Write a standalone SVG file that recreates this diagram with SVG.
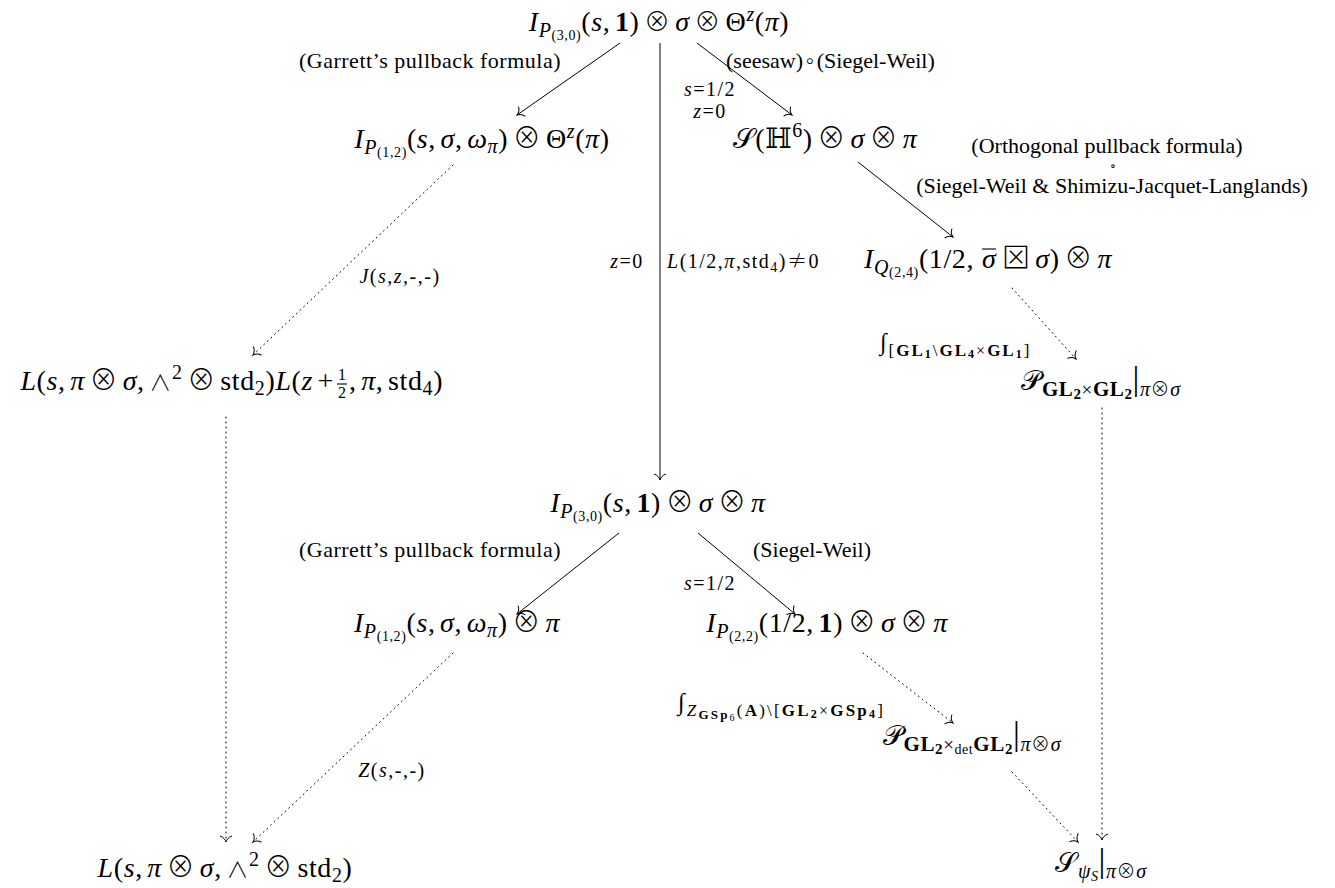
<svg xmlns="http://www.w3.org/2000/svg" width="1335" height="888" viewBox="0 0 1335 888">
<style>
text{font-family:"Liberation Serif","DejaVu Serif",serif;fill:#000}
.n{font-size:28px;letter-spacing:0.6px;word-spacing:-3px}
.l{font-size:22px}
.s{font-size:20px;letter-spacing:1.5px}
.i{font-style:italic}
.b{font-weight:bold}
.o{font-family:"Noto Sans CJK JP","DejaVu Sans",sans-serif;font-weight:300}
.c line{stroke:#000;stroke-width:1;fill:none}
.sol{marker-end:url(#ah)}
.dot{stroke-dasharray:1 4;stroke-linecap:round;marker-end:url(#ah)}
.bar{stroke:#000;stroke-width:1.1}
</style>
<defs>
<marker id="ah" markerUnits="userSpaceOnUse" viewBox="-8 -8 10 16" refX="0" refY="0" markerWidth="10" markerHeight="16" orient="auto">
<path d="M-6,-6 C-5,-2.5 -2,-0.6 0,0 C-2,0.6 -5,2.5 -6,6" fill="none" stroke="#000" stroke-width="1"/>
</marker>
</defs>
<rect width="1335" height="888" fill="#fff"/>

<g id="n1"><text class="n" x="659" y="31" text-anchor="middle"><tspan class="i">I</tspan><tspan class="i" font-size="20" dy="6">P</tspan><tspan font-size="14" dy="3">(3,0)</tspan><tspan dy="-9">(</tspan><tspan class="i">s</tspan>, <tspan class="b">1</tspan>) <tspan class="o" font-size="26">⊗</tspan> <tspan class="i">σ</tspan> <tspan class="o" font-size="26">⊗</tspan> Θ<tspan class="i" font-size="20" dy="-10">z</tspan><tspan dy="10">(</tspan><tspan class="i">π</tspan>)</text></g>

<g id="n2"><text class="n" x="482" y="148" text-anchor="middle"><tspan class="i">I</tspan><tspan class="i" font-size="20" dy="6">P</tspan><tspan font-size="14" dy="3">(1,2)</tspan><tspan dy="-9">(</tspan><tspan class="i">s</tspan>, <tspan class="i">σ</tspan>, <tspan class="i">ω</tspan><tspan class="i" font-size="20" dy="5">π</tspan><tspan dy="-5">) </tspan><tspan class="o">⊗</tspan> Θ<tspan class="i" font-size="20" dy="-10">z</tspan><tspan dy="10">(</tspan><tspan class="i">π</tspan>)</text></g>

<g id="n3"><text class="n" x="825" y="148" text-anchor="middle">𝒮(ℍ<tspan font-size="20" dy="-11">6</tspan><tspan dy="11">) </tspan><tspan class="o">⊗</tspan> <tspan class="i">σ</tspan> <tspan class="o">⊗</tspan> <tspan class="i">π</tspan></text></g>

<g id="n4"><text class="n" x="974" y="268" text-anchor="end" letter-spacing="1.6"><tspan class="i">I</tspan><tspan class="i" font-size="20" dy="6">Q</tspan><tspan font-size="14" dy="3">(2,4)</tspan><tspan dy="-9">(1/2,</tspan></text><text class="n i" x="982" y="268">σ</text><line class="bar" x1="982" y1="249" x2="996" y2="249"/><text class="n" x="1002" y="268"><tspan class="o">⊠</tspan> <tspan class="i">σ</tspan>) <tspan class="o">⊗</tspan> <tspan class="i">π</tspan></text></g>

<g id="n5"><text class="n" x="334" y="390" text-anchor="end"><tspan class="i">L</tspan>(<tspan class="i">s</tspan>, <tspan class="i">π</tspan> <tspan class="o">⊗</tspan> <tspan class="i">σ</tspan>, <tspan class="o" font-size="22">∧</tspan><tspan font-size="20" dy="-11">2</tspan><tspan dy="11"> </tspan><tspan class="o">⊗</tspan> std<tspan font-size="20" dy="5">2</tspan><tspan dy="-5">)</tspan><tspan class="i">L</tspan>(<tspan class="i">z</tspan> +</text><text font-size="16" x="342" y="380" text-anchor="middle">1</text><line class="bar" x1="337" y1="384" x2="347" y2="384"/><text font-size="16" x="342" y="398" text-anchor="middle">2</text><text class="n" x="349" y="390">, <tspan class="i">π</tspan>, std<tspan font-size="20" dy="5">4</tspan><tspan dy="-5">)</tspan></text></g>

<g id="n6"><text class="n" x="1101" y="390" text-anchor="middle">𝒫<tspan class="b" font-size="21" dy="6">GL</tspan><tspan class="b" font-size="15" dy="3">2</tspan><tspan font-size="19" dy="-3">×</tspan><tspan class="b" font-size="21">GL</tspan><tspan class="b" font-size="15" dy="3">2</tspan><tspan font-size="34" dy="-9">|</tspan><tspan class="i" font-size="20" dy="6">π</tspan><tspan class="o" font-size="19">⊗</tspan><tspan class="i" font-size="20">σ</tspan></text></g>

<g id="n7"><text class="n" x="658" y="512" text-anchor="middle"><tspan class="i">I</tspan><tspan class="i" font-size="20" dy="6">P</tspan><tspan font-size="14" dy="3">(3,0)</tspan><tspan dy="-9">(</tspan><tspan class="i">s</tspan>, <tspan class="b">1</tspan>) <tspan class="o">⊗</tspan> <tspan class="i">σ</tspan> <tspan class="o">⊗</tspan> <tspan class="i">π</tspan></text></g>

<g id="n8"><text class="n" x="457" y="632" text-anchor="middle"><tspan class="i">I</tspan><tspan class="i" font-size="20" dy="6">P</tspan><tspan font-size="14" dy="3">(1,2)</tspan><tspan dy="-9">(</tspan><tspan class="i">s</tspan>, <tspan class="i">σ</tspan>, <tspan class="i">ω</tspan><tspan class="i" font-size="20" dy="5">π</tspan><tspan dy="-5">) </tspan><tspan class="o">⊗</tspan> <tspan class="i">π</tspan></text></g>

<g id="n9"><text class="n" x="827" y="632" text-anchor="middle"><tspan class="i">I</tspan><tspan class="i" font-size="20" dy="6">P</tspan><tspan font-size="14" dy="3">(2,2)</tspan><tspan dy="-9">(1/2, </tspan><tspan class="b">1</tspan>) <tspan class="o">⊗</tspan> <tspan class="i">σ</tspan> <tspan class="o">⊗</tspan> <tspan class="i">π</tspan></text></g>

<g id="n10"><text class="n" x="972" y="745" text-anchor="middle">𝒫<tspan class="b" font-size="21" dy="6">GL</tspan><tspan class="b" font-size="15" dy="3">2</tspan><tspan font-size="19" dy="-3">×</tspan><tspan font-size="14" dy="3">det</tspan><tspan class="b" font-size="21" dy="-3">GL</tspan><tspan class="b" font-size="15" dy="3">2</tspan><tspan font-size="34" dy="-9">|</tspan><tspan class="i" font-size="20" dy="6">π</tspan><tspan class="o" font-size="19">⊗</tspan><tspan class="i" font-size="20">σ</tspan></text></g>

<g id="n11"><text class="n" x="225" y="877" text-anchor="middle"><tspan class="i">L</tspan>(<tspan class="i">s</tspan>, <tspan class="i">π</tspan> <tspan class="o">⊗</tspan> <tspan class="i">σ</tspan>, <tspan class="o" font-size="22">∧</tspan><tspan font-size="20" dy="-11">2</tspan><tspan dy="11"> </tspan><tspan class="o">⊗</tspan> std<tspan font-size="20" dy="5">2</tspan><tspan dy="-5">)</tspan></text></g>

<g id="n12"><text class="n" x="1101" y="872" text-anchor="middle">𝒮<tspan class="i" font-size="20" dy="6">ψ</tspan><tspan class="i" font-size="14" dy="3">S</tspan><tspan font-size="34" dy="-9">|</tspan><tspan class="i" font-size="20" dy="6">π</tspan><tspan class="o" font-size="19">⊗</tspan><tspan class="i" font-size="20">σ</tspan></text></g>

<g id="labels">
<text class="l" x="430" y="68" text-anchor="middle" letter-spacing="0.5">(Garrett’s pullback formula)</text>
<text class="l" x="726" y="68">(seesaw)<tspan class="o">∘</tspan>(Siegel-Weil)</text>
<text class="s" x="710" y="96" text-anchor="middle"><tspan class="i">s</tspan>=1/2</text>
<text class="s" x="710" y="118" text-anchor="middle"><tspan class="i">z</tspan>=0</text>
<text class="l" x="1107" y="153" text-anchor="middle">(Orthogonal pullback formula)</text>
<text font-family="DejaVu Sans" font-size="12" x="1113" y="170" text-anchor="middle">∘</text>
<text class="l" x="1112" y="193" text-anchor="middle">(Siegel-Weil &amp; Shimizu-Jacquet-Langlands)</text>
<text class="s" x="627" y="268" text-anchor="middle"><tspan class="i">z</tspan>=0</text>
<text class="s" x="667" y="268"><tspan class="i">L</tspan>(1/2,<tspan class="i">π</tspan>,std<tspan font-size="14" dy="4">4</tspan><tspan dy="-4">)</tspan><tspan class="o">≠</tspan>0</text>
<text class="s" x="400" y="283" text-anchor="middle"><tspan class="i">J</tspan>(<tspan class="i">s</tspan>,<tspan class="i">z</tspan>,-,-)</text>
<text x="880" y="350" letter-spacing="2"><tspan font-size="24">∫</tspan><tspan font-size="17" dy="6">[</tspan><tspan class="b" font-size="17">GL</tspan><tspan class="b" font-size="12" dy="2">1</tspan><tspan font-size="17" dy="-2">\</tspan><tspan class="b" font-size="17">GL</tspan><tspan class="b" font-size="12" dy="2">4</tspan><tspan font-size="16" dy="-2">×</tspan><tspan class="b" font-size="17">GL</tspan><tspan class="b" font-size="12" dy="2">1</tspan><tspan font-size="17" dy="-2">]</tspan></text>
<text class="l" x="430" y="557" text-anchor="middle" letter-spacing="0.5">(Garrett’s pullback formula)</text>
<text class="l" x="753" y="557">(Siegel-Weil)</text>
<text class="s" x="710" y="590" text-anchor="middle"><tspan class="i">s</tspan>=1/2</text>
<text x="678" y="710" letter-spacing="2.2"><tspan font-size="24">∫</tspan><tspan class="i" font-size="17" dy="6">Z</tspan><tspan class="b" font-size="13" dy="3">GSp</tspan><tspan font-size="10" dy="2">6</tspan><tspan font-size="17" dy="-5">(</tspan><tspan class="b" font-size="17">A</tspan><tspan font-size="17">)\[</tspan><tspan class="b" font-size="17">GL</tspan><tspan class="b" font-size="12" dy="2">2</tspan><tspan font-size="16" dy="-2">×</tspan><tspan class="b" font-size="17">GSp</tspan><tspan class="b" font-size="12" dy="2">4</tspan><tspan font-size="17" dy="-2">]</tspan></text>
<text class="s" x="392" y="777" text-anchor="middle"><tspan class="i">Z</tspan>(<tspan class="i">s</tspan>,-,-)</text>
</g>

<g id="connectors" class="c">
<line class="sol" x1="620" y1="43" x2="517" y2="115"/>
<line class="sol" x1="697" y1="43" x2="792" y2="115"/>
<line class="sol" x1="660" y1="43" x2="660" y2="480"/>
<line class="sol" x1="858" y1="162" x2="953" y2="237"/>
<line class="dot" x1="453" y1="165" x2="253" y2="355"/>
<line class="dot" x1="1012" y1="288" x2="1076" y2="359"/>
<line class="dot" x1="226" y1="417" x2="226" y2="842"/>
<line class="dot" x1="1102" y1="408" x2="1102" y2="840"/>
<line class="sol" x1="619" y1="533" x2="517" y2="614"/>
<line class="sol" x1="698" y1="533" x2="795" y2="614"/>
<line class="dot" x1="453" y1="653" x2="253" y2="842"/>
<line class="dot" x1="863" y1="653" x2="953" y2="723"/>
<line class="dot" x1="1012" y1="772" x2="1078" y2="842"/>
</g>
</svg>
